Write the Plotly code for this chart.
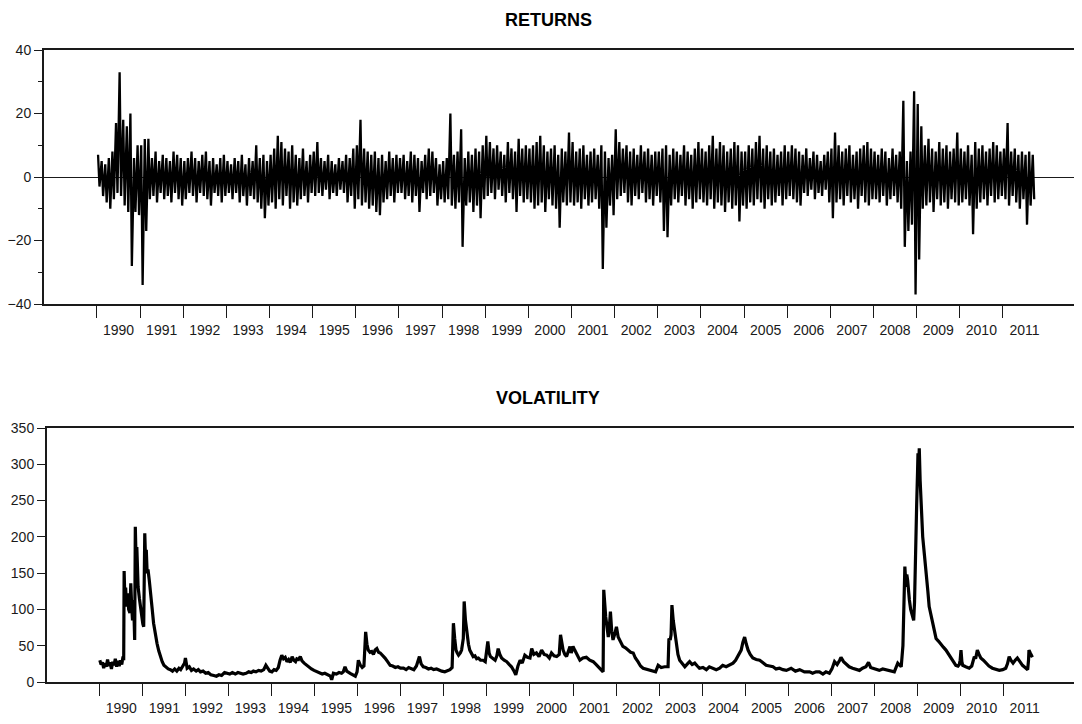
import plotly.graph_objects as go

# ---------------- data ----------------
START_YEAR = 1990
YEARS = list(range(1990, 2012))
YEAR_LABELS = [str(y) for y in YEARS]

# monthly extremes of the returns series, Jan 1990 .. Sep 2011
ret_hi = [
    7, 5, 4, 6, 8, 17, 33, 18, 16, 20, 6, 10,      # 1990
    10, 12, 12, 6, 8, 5, 7, 6, 5, 8, 7, 6,         # 1991
    5, 6, 8, 6, 5, 7, 8, 5, 6, 4, 6, 7,            # 1992
    5, 4, 6, 5, 7, 4, 6, 5, 10, 6, 7, 5,           # 1993
    7, 9, 13, 11, 9, 8, 10, 7, 6, 9, 5, 7,         # 1994
    8, 11, 6, 5, 7, 5, 4, 6, 5, 7, 6, 9,           # 1995
    10, 18, 9, 8, 7, 8, 6, 7, 5, 8, 6, 7,          # 1996
    6, 7, 5, 8, 7, 6, 5, 7, 9, 8, 6, 4,            # 1997
    5, 6, 20, 7, 8, 15, 6, 8, 7, 9, 8, 10,         # 1998
    13, 11, 9, 10, 8, 7, 11, 9, 8, 12, 9, 10,      # 1999
    9, 10, 11, 13, 10, 8, 9, 10, 7, 9, 8, 14,      # 2000
    11, 8, 9, 10, 7, 8, 9, 7, 10, 8, 6, 7,         # 2001
    15, 11, 9, 10, 8, 9, 7, 10, 8, 9, 7, 8,        # 2002
    8, 9, 10, 7, 9, 8, 7, 10, 8, 7, 9, 11,         # 2003
    9, 8, 10, 13, 9, 11, 10, 8, 9, 11, 10, 8,      # 2004
    8, 10, 9, 11, 13, 9, 10, 8, 9, 7, 8, 10,       # 2005
    8, 10, 9, 8, 7, 9, 6, 8, 7, 5, 7, 8,           # 2006
    9, 14, 10, 8, 9, 10, 7, 8, 9, 10, 11, 9,       # 2007
    8, 7, 9, 8, 6, 9, 7, 8, 24, 5, 8, 27,          # 2008
    23, 16, 10, 12, 9, 8, 11, 9, 10, 8, 9, 14,     # 2009
    9, 8, 10, 7, 11, 9, 10, 8, 9, 11, 10, 8,       # 2010
    9, 17, 8, 9, 7, 8, 7, 8, 7,                    # 2011
]
ret_lo = [
    -3, -6, -8, -10, -7, -5, -6, -9, -11, -28, -11, -12,
    -34, -17, -7, -6, -8, -5, -7, -6, -8, -5, -7, -9,
    -7, -5, -6, -8, -5, -6, -7, -9, -5, -6, -8, -6,
    -5, -7, -5, -8, -6, -9, -6, -7, -8, -10, -13, -9,
    -8, -10, -7, -9, -6, -10, -8, -9, -7, -6, -8, -5,
    -6, -5, -6, -4, -7, -5, -6, -4, -5, -8, -6, -10,
    -7, -9, -8, -10, -9, -11, -12, -8, -7, -6, -8, -5,
    -5, -7, -6, -8, -6, -11, -5, -7, -6, -5, -9, -7,
    -8, -7, -9, -10, -8, -22, -9, -8, -11, -9, -13, -7,
    -6, -5, -7, -4, -6, -8, -5, -7, -11, -6, -8, -7,
    -8, -10, -9, -8, -11, -7, -9, -10, -16, -8, -9, -8,
    -9, -8, -10, -7, -9, -8, -7, -10, -29, -16, -9, -12,
    -7, -6, -5, -8, -9, -6, -7, -5, -8, -7, -9, -6,
    -8, -17, -19, -9, -7, -8, -6, -9, -7, -10, -8, -7,
    -8, -9, -7, -10, -8, -9, -11, -8, -10, -9, -14, -9,
    -10, -8, -9, -7, -8, -10, -7, -9, -8, -6, -9, -7,
    -6, -7, -8, -9, -5, -6, -4, -7, -5, -6, -4, -8,
    -13, -8, -7, -9, -6, -8, -7, -10, -6, -8, -9, -7,
    -7, -8, -6, -9, -7, -6, -8, -10, -22, -17, -15, -37,
    -26, -10, -9, -8, -11, -7, -9, -8, -10, -7, -8, -9,
    -8, -7, -9, -18, -10, -8, -7, -9, -6, -8, -7, -6,
    -7, -9, -6, -8, -10, -7, -15, -9, -7,
]

# volatility: time (years after Jan 1990) and value
vol_t = [
    0.00, 0.03, 0.06, 0.09, 0.12, 0.15, 0.18, 0.21, 0.24, 0.27, 0.30, 0.33, 0.36, 0.39, 0.42, 0.45, 0.48, 0.51, 0.54, 0.555,
    0.565, 0.58, 0.60, 0.62, 0.65, 0.67, 0.70, 0.72, 0.74, 0.76, 0.785, 0.81, 0.825, 0.84, 0.86, 0.875, 0.89, 0.92, 0.945, 0.965,
    0.98, 1.00, 1.02, 1.035, 1.045, 1.06, 1.08, 1.10, 1.12, 1.15, 1.17, 1.19, 1.22, 1.25, 1.29, 1.33, 1.37, 1.41, 1.45, 1.49,
    1.54, 1.59, 1.64, 1.69, 1.74, 1.79, 1.84, 1.88, 1.93, 1.97, 1.99, 2.01, 2.03, 2.08, 2.13, 2.18, 2.24, 2.29, 2.34, 2.40,
    2.46, 2.52, 2.58, 2.65, 2.71, 2.77, 2.83, 2.90, 2.96, 3.02, 3.08, 3.15, 3.21, 3.27, 3.33, 3.40, 3.46, 3.52, 3.57, 3.63,
    3.69, 3.75, 3.81, 3.86, 3.90, 3.95, 4.00, 4.05, 4.10, 4.15, 4.19, 4.23, 4.27, 4.31, 4.35, 4.39, 4.43, 4.47, 4.51, 4.55,
    4.58, 4.62, 4.66, 4.70, 4.75, 4.81, 4.86, 4.92, 4.98, 5.05, 5.11, 5.17, 5.23, 5.29, 5.33, 5.36, 5.39, 5.43, 5.50, 5.56,
    5.62, 5.66, 5.70, 5.74, 5.82, 5.88, 5.94, 5.98, 6.01, 6.05, 6.10, 6.14, 6.18, 6.21, 6.24, 6.28, 6.32, 6.36, 6.40, 6.44,
    6.48, 6.52, 6.57, 6.63, 6.69, 6.75, 6.81, 6.87, 6.93, 6.99, 7.06, 7.12, 7.18, 7.24, 7.30, 7.36, 7.43, 7.47, 7.52, 7.58,
    7.64, 7.70, 7.76, 7.83, 7.89, 7.95, 8.02, 8.08, 8.14, 8.19, 8.22, 8.25, 8.28, 8.31, 8.34, 8.38, 8.41, 8.45, 8.47, 8.50,
    8.53, 8.57, 8.60, 8.64, 8.68, 8.72, 8.76, 8.80, 8.85, 8.91, 8.96, 9.02, 9.05, 9.08, 9.13, 9.19, 9.23, 9.26, 9.30, 9.34,
    9.40, 9.46, 9.52, 9.57, 9.62, 9.67, 9.72, 9.77, 9.82, 9.88, 9.94, 10.00, 10.04, 10.09, 10.15, 10.21, 10.27, 10.33, 10.39, 10.45,
    10.50, 10.56, 10.62, 10.68, 10.71, 10.74, 10.77, 10.81, 10.85, 10.89, 10.93, 10.96, 11.00, 11.04, 11.08, 11.12, 11.16, 11.23, 11.31, 11.39,
    11.47, 11.54, 11.62, 11.68, 11.70, 11.715, 11.74, 11.76, 11.78, 11.82, 11.845, 11.87, 11.90, 11.93, 11.97, 12.01, 12.05, 12.09, 12.13, 12.16,
    12.22, 12.28, 12.34, 12.40, 12.45, 12.51, 12.57, 12.63, 12.70, 12.78, 12.85, 12.92, 12.98, 13.05, 13.13, 13.21, 13.23, 13.26, 13.28, 13.30,
    13.33, 13.36, 13.40, 13.44, 13.48, 13.54, 13.60, 13.66, 13.71, 13.77, 13.83, 13.89, 13.94, 14.02, 14.10, 14.17, 14.25, 14.33, 14.41, 14.48,
    14.56, 14.64, 14.72, 14.78, 14.83, 14.88, 14.91, 14.95, 14.99, 15.03, 15.07, 15.12, 15.18, 15.26, 15.34, 15.41, 15.49, 15.57, 15.65, 15.72,
    15.80, 15.88, 15.96, 16.07, 16.17, 16.27, 16.38, 16.50, 16.57, 16.65, 16.73, 16.81, 16.88, 16.96, 17.02, 17.08, 17.14, 17.20, 17.23, 17.29,
    17.35, 17.42, 17.50, 17.58, 17.66, 17.73, 17.81, 17.87, 17.92, 17.97, 18.05, 18.12, 18.20, 18.28, 18.37, 18.47, 18.55, 18.60, 18.63, 18.67,
    18.70, 18.715, 18.74, 18.76, 18.78, 18.80, 18.82, 18.85, 18.87, 18.90, 18.92, 18.94, 18.96, 18.99, 19.01, 19.02, 19.04, 19.05, 19.07, 19.10,
    19.13, 19.17, 19.21, 19.25, 19.28, 19.32, 19.36, 19.40, 19.44, 19.50, 19.55, 19.61, 19.67, 19.73, 19.79, 19.85, 19.90, 19.95, 19.98, 20.00,
    20.02, 20.04, 20.06, 20.13, 20.21, 20.27, 20.33, 20.36, 20.40, 20.44, 20.48, 20.54, 20.60, 20.67, 20.75, 20.83, 20.91, 20.99, 21.06, 21.10,
    21.14, 21.18, 21.23, 21.28, 21.33, 21.39, 21.45, 21.51, 21.57, 21.59, 21.60, 21.63, 21.66, 21.68,
]
vol_v = [
    30, 24, 27, 19, 26, 21, 31, 22, 27, 18, 28, 23, 32, 21, 29, 22, 30, 24, 35, 30,
    153, 118, 130, 104, 122, 100, 95, 136, 105, 85, 113, 58, 214, 175, 186, 150, 131, 115, 104, 90,
    85, 80, 76, 140, 205, 175, 182, 150, 155, 140, 130, 122, 99, 81, 65, 53, 43, 35, 28, 23,
    20, 18, 17, 15, 18, 15, 19, 17, 22, 26, 33, 22, 19, 21, 16, 18, 15, 17, 14, 15,
    12, 13, 10, 9, 8, 10, 9, 13, 12, 11, 13, 11, 13, 12, 11, 12, 14, 13, 15, 14,
    16, 15, 17, 23, 19, 15, 14, 17, 16, 20, 30, 37, 32, 34, 28, 31, 27, 35, 30, 28,
    32, 31, 35, 29, 26, 23, 21, 18, 16, 14, 13, 11, 12, 10, 9, 8, 3, 12, 11, 13,
    12, 14, 21, 15, 12, 10, 8, 14, 30, 24, 20, 22, 69, 52, 44, 41, 42, 38, 44, 46,
    41, 40, 37, 33, 28, 23, 22, 20, 21, 19, 19, 17, 20, 18, 17, 22, 35, 25, 21, 20,
    18, 19, 17, 18, 16, 15, 14, 15, 17, 20, 81, 60, 44, 40, 37, 40, 44, 60, 111, 85,
    67, 52, 44, 38, 35, 36, 32, 33, 30, 30, 28, 56, 40, 35, 33, 30, 36, 46, 38, 33,
    30, 28, 24, 21, 16, 10, 22, 30, 26, 37, 34, 33, 46, 38, 40, 35, 44, 38, 37, 33,
    40, 36, 35, 38, 65, 52, 44, 38, 35, 42, 49, 40, 49, 44, 40, 35, 30, 33, 34, 30,
    28, 24, 19, 15, 14, 127, 100, 90, 81, 62, 75, 97, 70, 58, 66, 76, 62, 58, 52, 49,
    47, 44, 41, 40, 33, 28, 22, 19, 18, 17, 15, 14, 23, 20, 21, 21, 60, 58, 65, 106,
    85, 72, 49, 38, 30, 25, 21, 25, 28, 24, 26, 22, 19, 20, 17, 21, 19, 17, 19, 23,
    21, 24, 26, 30, 35, 40, 44, 55, 62, 52, 44, 38, 33, 31, 30, 27, 23, 22, 21, 18,
    19, 17, 16, 19, 15, 17, 14, 14, 12, 14, 14, 11, 14, 12, 18, 28, 24, 30, 34, 28,
    24, 21, 19, 17, 16, 19, 21, 27, 20, 19, 17, 16, 18, 17, 15, 14, 26, 22, 21, 50,
    120, 159, 131, 148, 140, 120, 113, 100, 95, 88, 85, 110, 150, 246, 290, 315, 300, 322, 278, 240,
    200, 175, 154, 125, 104, 92, 81, 70, 60, 56, 53, 48, 44, 38, 33, 27, 23, 22, 24, 30,
    44, 28, 23, 21, 19, 22, 35, 32, 44, 38, 33, 30, 26, 22, 19, 17, 16, 17, 19, 25,
    35, 30, 26, 30, 33, 28, 23, 20, 17, 30, 44, 40, 36, 34,
]

# ---------------- build traces ----------------
ret_x, ret_y = [], []
for i, (h, l) in enumerate(zip(ret_hi, ret_lo)):
    t0 = START_YEAR + i / 12.0
    ret_x += [t0 + 0.3 / 12.0, t0 + 0.7 / 12.0]
    ret_y += [h, l]

vol_x = [START_YEAR + t for t in vol_t]

FONT = "Liberation Sans, Arial, sans-serif"
INK = "#1a1a1a"
OFF = 8          # page body margin of the browser
W, H = 1074, 716  # figure size (page 1082x724 minus the body offset)

fig = go.Figure()
fig.add_trace(go.Scatter(x=ret_x, y=ret_y, mode="lines", xaxis="x", yaxis="y",
                         line=dict(color="black", width=2.3), hoverinfo="skip", showlegend=False))
fig.add_trace(go.Scatter(x=vol_x, y=vol_v, mode="lines", xaxis="x2", yaxis="y2",
                         line=dict(color="black", width=3.2), hoverinfo="skip", showlegend=False))

x_range = [1988.772, 2012.833]
mid_vals = [y + 0.5 for y in YEARS]


def xaxis_cfg(left_px, anchor):
    return dict(
        anchor=anchor,
        domain=[(left_px - OFF) / W, 1.0], range=x_range, showgrid=False, zeroline=False,
        showline=True, linecolor=INK, linewidth=2, mirror=True,
        tickmode="array", tickvals=mid_vals, ticktext=YEAR_LABELS,
        ticks="outside", ticklen=12, tickcolor="rgba(0,0,0,0)",
        tickfont=dict(family=FONT, size=14, color=INK),
        minor=dict(tickmode="array", tickvals=YEARS, ticks="outside", ticklen=12,
                   tickwidth=1.3, tickcolor=INK, showgrid=False),
        automargin=False, fixedrange=True,
    )


def ydom(top_px, bottom_px):
    return [(H - (bottom_px - OFF)) / H, (H - (top_px - OFF)) / H]


fig.update_layout(
    width=W, height=H, margin=dict(l=0, r=0, t=0, b=0),
    paper_bgcolor="white", plot_bgcolor="white", showlegend=False,
    xaxis=xaxis_cfg(44, "y"),
    xaxis2=xaxis_cfg(47, "y2"),
    yaxis=dict(
        anchor="x",
        domain=ydom(50, 304), range=[-40, 40], showgrid=False,
        zeroline=True, zerolinecolor=INK, zerolinewidth=1.3,
        showline=True, linecolor=INK, linewidth=2,
        tickmode="array", tickvals=[-40, -20, 0, 20, 40],
        ticks="outside", ticklen=8, tickwidth=1.3, tickcolor=INK,
        tickfont=dict(family=FONT, size=14, color=INK),
        minor=dict(tickmode="array", tickvals=[-30, -10, 10, 30], ticks="outside",
                   ticklen=4, tickwidth=1.3, tickcolor=INK, showgrid=False),
        automargin=False, fixedrange=True,
    ),
    yaxis2=dict(
        anchor="x2",
        domain=ydom(428, 682), range=[0, 350], showgrid=False,
        zeroline=False, showline=True, linecolor=INK, linewidth=2,
        tickmode="array", tickvals=[0, 50, 100, 150, 200, 250, 300, 350],
        ticks="outside", ticklen=8, tickwidth=1.3, tickcolor=INK,
        tickfont=dict(family=FONT, size=14, color=INK),
        automargin=False, fixedrange=True,
    ),
    annotations=[
        dict(text="<b>RETURNS</b>", x=(548 - OFF) / W, y=(H - (20 - OFF)) / H,
             xref="paper", yref="paper", xanchor="center", yanchor="middle", showarrow=False,
             font=dict(family=FONT, size=18, color="black")),
        dict(text="<b>VOLATILITY</b>", x=(548 - OFF) / W, y=(H - (398 - OFF)) / H,
             xref="paper", yref="paper", xanchor="center", yanchor="middle", showarrow=False,
             font=dict(family=FONT, size=18, color="black")),
    ],
)

fig.write_html("out.html")
